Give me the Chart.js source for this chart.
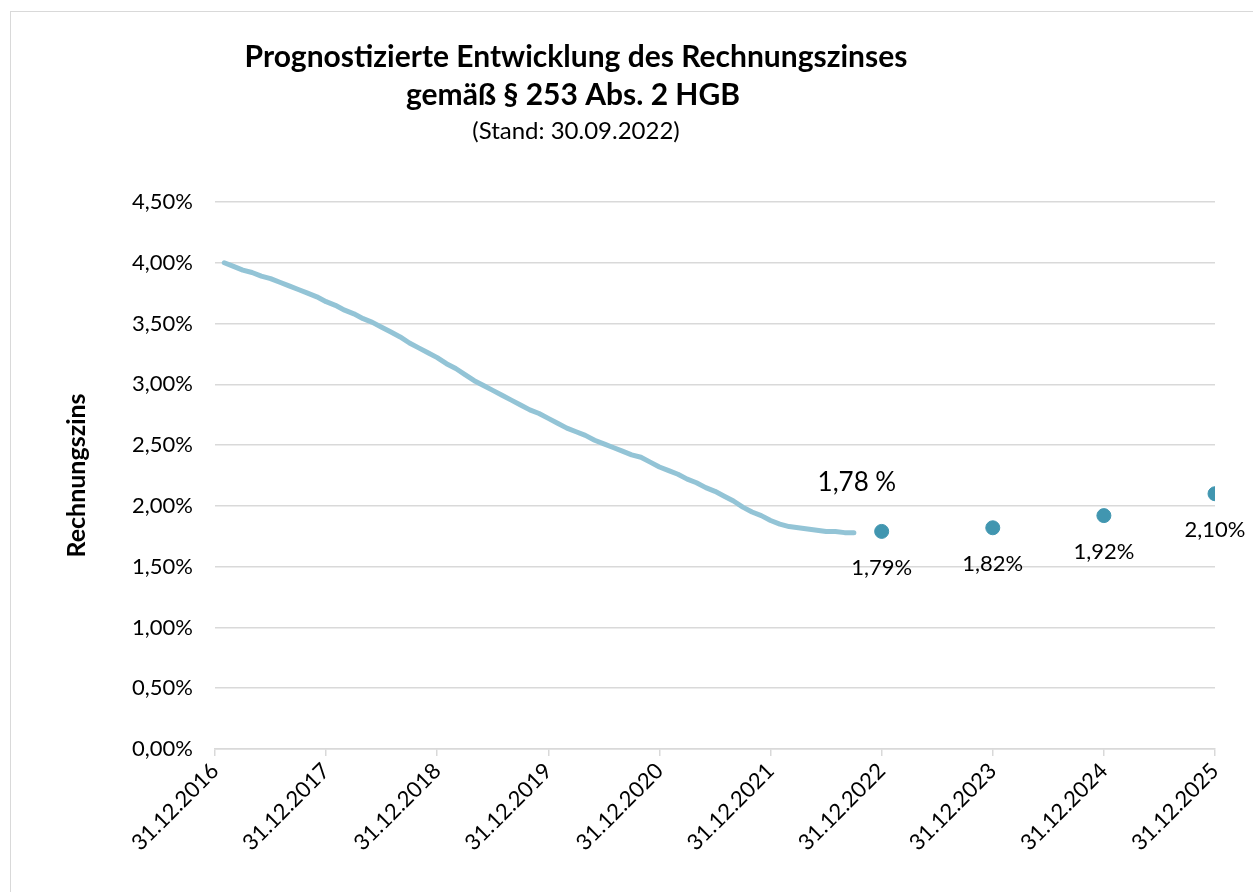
<!DOCTYPE html>
<html>
<head>
<meta charset="utf-8">
<script src="https://cdn.jsdelivr.net/npm/chart.js@4.4.0/dist/chart.umd.min.js"></script>
<style>
  body { margin: 0; background: #fff; }
  #wrap { position: relative; width: 1253px; height: 892px; overflow: hidden; }
  #frame { position: absolute; left: 10px; top: 11px; width: 1300px; height: 950px;
           border-left: 1.5px solid #d9d9d9; border-top: 1.5px solid #d9d9d9; }
  canvas { position: absolute; left: 0; top: 0; }
</style>
</head>
<body>
<div id="wrap">
  <div id="frame"></div>
  <canvas id="zinsChart" width="1253" height="892"></canvas>
</div>
<script>
// x axis: year ends
const dateLabels = ['31.12.2016', '31.12.2017', '31.12.2018', '31.12.2019', '31.12.2020',
                    '31.12.2021', '31.12.2022', '31.12.2023', '31.12.2024', '31.12.2025'];

// monthly Rechnungszins in %, Jan 2017 - Sep 2022
const monthlyRates = [
    4.00, 3.97, 3.94, 3.92, 3.89, 3.87, 3.84, 3.81, 3.78, 3.75, 3.72, 3.68,
    3.65, 3.61, 3.58, 3.54, 3.51, 3.47, 3.43, 3.39, 3.34, 3.30, 3.26, 3.22,
    3.17, 3.13, 3.08, 3.03, 2.99, 2.95, 2.91, 2.87, 2.83, 2.79, 2.76, 2.72,
    2.68, 2.64, 2.61, 2.58, 2.54, 2.51, 2.48, 2.45, 2.42, 2.40, 2.36, 2.32,
    2.29, 2.26, 2.22, 2.19, 2.15, 2.12, 2.08, 2.04, 1.99, 1.95, 1.92, 1.88,
    1.85, 1.83, 1.82, 1.81, 1.80, 1.79, 1.79, 1.78, 1.78
];

// forecast at 31.12.2022 - 31.12.2025
const forecastLabels = ['31.12.2022', '31.12.2023', '31.12.2024', '31.12.2025'];
const forecastRates = [1.79, 1.82, 1.92, 2.10];

const yTicks = [0, 0.5, 1, 1.5, 2, 2.5, 3, 3.5, 4, 4.5];

const FONT = 'Lato, "Open Sans", sans-serif';
const fmt = (v, sep) => v.toFixed(2).replace('.', ',') + sep + '%';

const lineData = monthlyRates.map((v, i) => ({ x: (i + 1) / 12, y: v }));
const pointData = forecastRates.map((v, i) => ({ x: dateLabels.indexOf(forecastLabels[i]), y: v }));

const headerPlugin = {
    id: 'header',
    afterDraw(chart) {
        const ctx = chart.ctx;
        ctx.save();
        ctx.fillStyle = '#000';
        ctx.textAlign = 'center';
        ctx.textBaseline = 'middle';
        ctx.font = 'bold 30px ' + FONT;
        ctx.fillText('Prognostizierte Entwicklung des Rechnungszinses', 576, 57);
        ctx.fillText('gemäß § 253 Abs. 2 HGB', 573, 95);
        ctx.font = '24px ' + FONT;
        ctx.fillText('(Stand: 30.09.2022)', 576, 131);
        ctx.restore();
    }
};

const valueLabels = {
    id: 'valueLabels',
    afterDatasetsDraw(chart) {
        const ctx = chart.ctx;
        const xs = chart.scales.x, ys = chart.scales.y;
        ctx.save();
        ctx.fillStyle = '#000';
        ctx.textAlign = 'center';
        ctx.textBaseline = 'middle';
        ctx.font = '22px ' + FONT;
        pointData.forEach(p => {
            ctx.fillText(fmt(p.y, ''), xs.getPixelForValue(p.x), ys.getPixelForValue(p.y) + 36);
        });
        const last = lineData[lineData.length - 1];
        ctx.font = '26px ' + FONT;
        ctx.fillText(fmt(last.y, ' '), xs.getPixelForValue(last.x) + 3, ys.getPixelForValue(last.y) - 50);
        ctx.restore();
    }
};

new Chart(document.getElementById('zinsChart'), {
    type: 'scatter',
    data: {
        datasets: [{
            type: 'line',
            data: lineData,
            borderColor: '#93c4d6',
            borderWidth: 5,
            pointRadius: 0,
            tension: 0,
            borderCapStyle: 'round',
            borderJoinStyle: 'round'
        }, {
            data: pointData,
            backgroundColor: '#4196b0',
            borderColor: '#4196b0',
            pointRadius: 7
        }]
    },
    options: {
        responsive: false,
        animation: false,
        layout: { padding: { top: 202, right: 38, left: 0, bottom: 0 } },
        plugins: {
            legend: { display: false },
            tooltip: { enabled: false }
        },
        scales: {
            x: {
                type: 'linear',
                min: 0,
                max: 9,
                afterFit(scale) { scale.height = 143; },
                afterBuildTicks(scale) {
                    scale.ticks = dateLabels.map((l, i) => ({ value: i }));
                },
                border: { color: '#d9d9d9', width: 1.5 },
                grid: { drawOnChartArea: false, drawTicks: true, tickLength: 7, color: '#d9d9d9', lineWidth: 1.5 },
                ticks: {
                    minRotation: 45,
                    maxRotation: 45,
                    padding: 2,
                    color: '#000',
                    font: { family: FONT, size: 22 },
                    callback: v => dateLabels[v]
                }
            },
            y: {
                min: 0,
                max: 4.5,
                afterFit(scale) { scale.width = 215; },
                afterBuildTicks(scale) {
                    scale.ticks = yTicks.map(v => ({ value: v }));
                },
                border: { display: false },
                grid: { color: '#d9d9d9', lineWidth: 1.5, drawTicks: false },
                ticks: {
                    padding: 22,
                    color: '#000',
                    font: { family: FONT, size: 22 },
                    callback: v => fmt(v, '')
                },
                title: {
                    display: true,
                    text: 'Rechnungszins',
                    color: '#000',
                    font: { family: FONT, size: 25, weight: 'bold' },
                    padding: { top: 62, bottom: 0 }
                }
            }
        }
    },
    plugins: [headerPlugin, valueLabels]
});
</script>
</body>
</html>
